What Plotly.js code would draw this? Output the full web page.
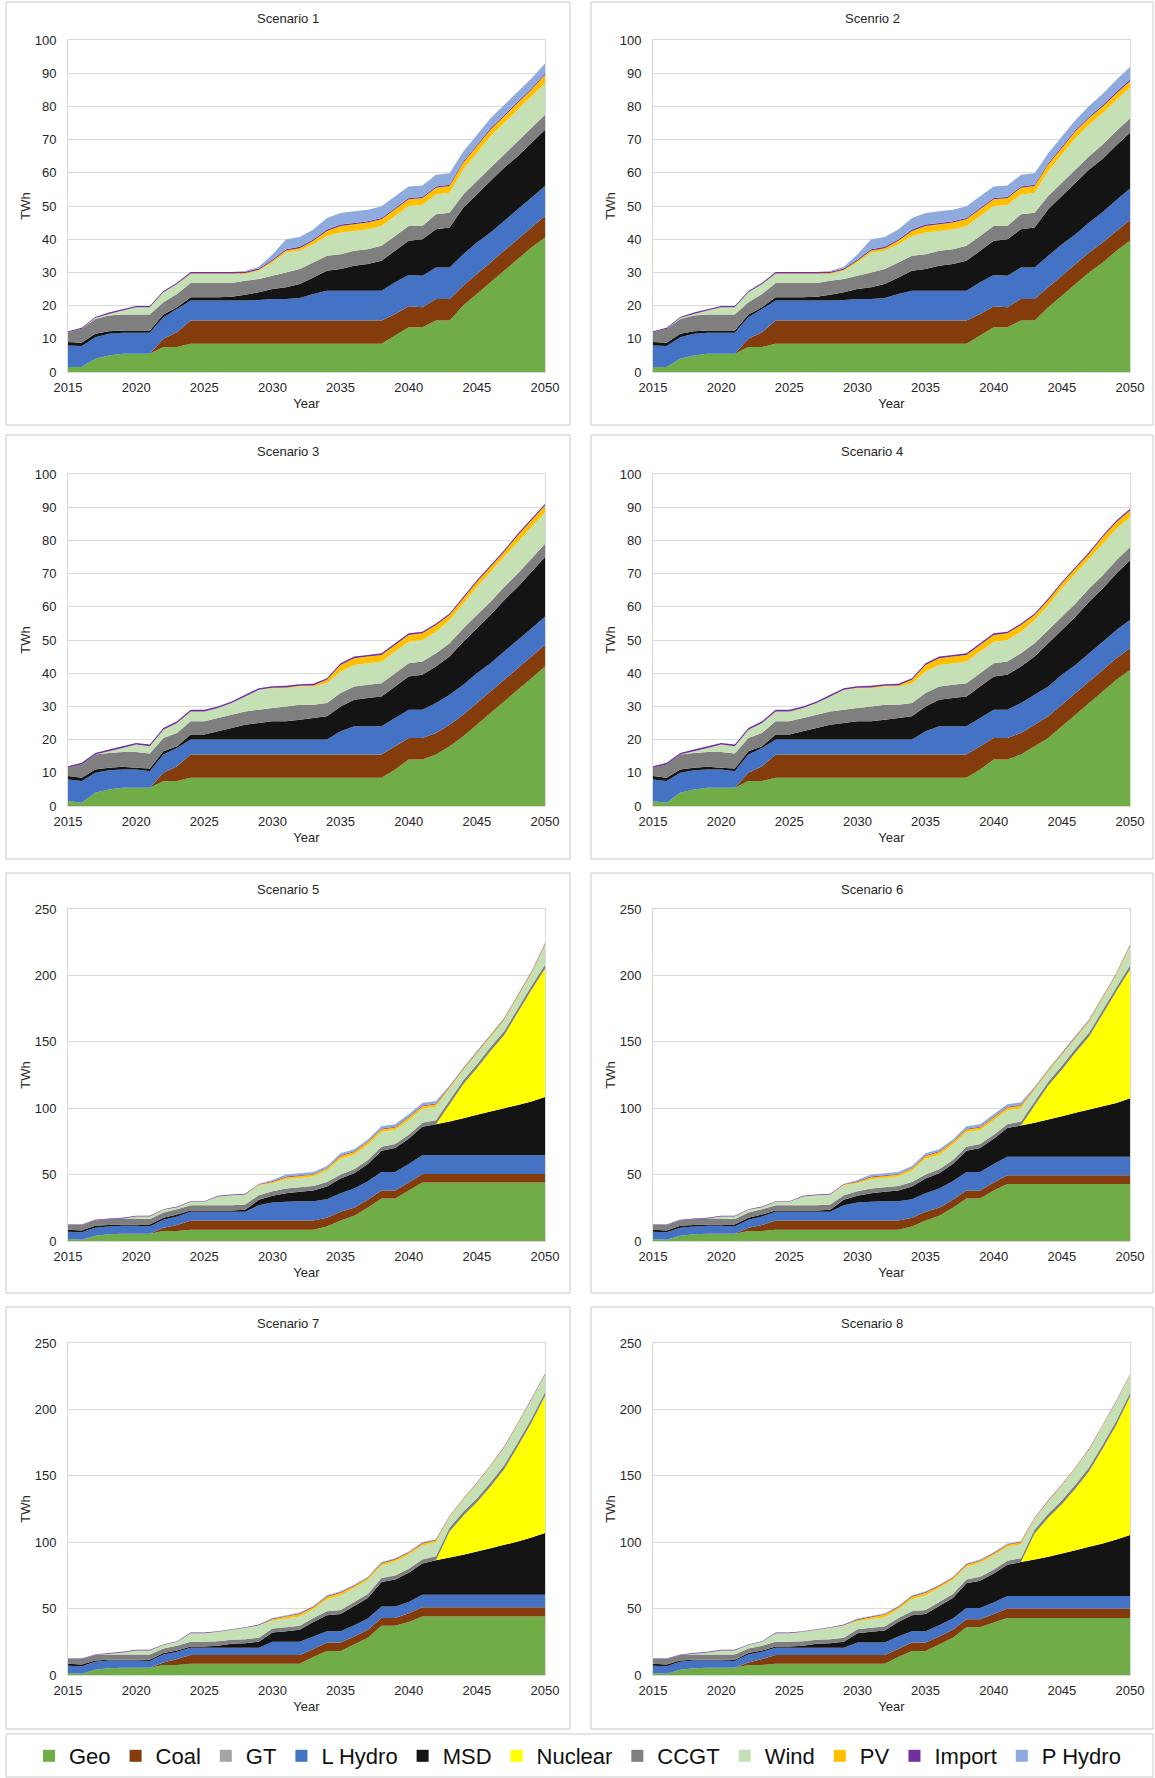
<!DOCTYPE html>
<html>
<head>
<meta charset="utf-8">
<script src="https://cdn.plot.ly/plotly-3.0.1.min.js"></script>
<style>html,body{margin:0;padding:0;background:#fff;}#chart{width:1155px;height:1778px;}</style>
</head>
<body>
<div id="chart"></div>
<script>
const years = [2015,2016,2017,2018,2019,2020,2021,2022,2023,2024,2025,2026,2027,2028,2029,2030,2031,2032,2033,2034,2035,2036,2037,2038,2039,2040,2041,2042,2043,2044,2045,2046,2047,2048,2049,2050];
const sources = ["Geo","Coal","GT","L Hydro","MSD","Nuclear","CCGT","Wind","PV","Import","P Hydro"];
const scenarioTitles = ["Scenario 1","Scenrio 2","Scenario 3","Scenario 4","Scenario 5","Scenario 6","Scenario 7","Scenario 8"];
const xTicks = [2015,2020,2025,2030,2035,2040,2045,2050];

// ---- Scenario 1 (TWh) ----
const s1_geo = [1.5,1.5,4,5,5.5,5.5,5.5,7.5,7.5,8.5,8.5,8.5,8.5,8.5,8.5,8.5,8.5,8.5,8.5,8.5,8.5,8.5,8.5,8.5,11,13.5,13.5,15.5,15.5,20,23.5,27,30.5,34,37.5,40.5];
const s1_coal = [0,0,0,0,0,0,0,2.5,4.5,7,7,7,7,7,7,7,7,7,7,7,7,7,7,7,6.5,6.3,6,6.5,6.5,6,6,6,6,6,6,6.5];
const s1_gt = [0,0,0,0,0,0,0,0,0,0,0,0,0,0,0,0,0,0,0,0,0,0,0,0,0,0,0,0,0,0,0,0,0,0,0,0];
const s1_lhydro = [6.5,6.3,6.5,6.5,6.3,6.3,6.3,6.5,7,6,6,6,6,6,6.2,6.5,6.5,6.8,8,9,9,9,9,9,9.5,9.4,9.5,9.5,9.5,9.5,9.5,9,9,9,9,9];
const s1_msd = [1,1,1,0.8,0.7,0.7,0.7,0.8,0.5,1,1,1,1.2,1.8,2.3,3,3.5,4.2,5,6,6.5,7.5,8,9,9.5,10.3,11,11.5,12,14,14.5,15.5,16,16,16.5,17];
const s1_nuclear = [0,0,0,0,0,0,0,0,0,0,0,0,0,0,0,0,0,0,0,0,0,0,0,0,0,0,0,0,0,0,0,0,0,0,0,0];
const s1_ccgt = [3,4.2,4.5,4.7,4.8,4.8,4.8,3.7,4,4.3,4.3,4.3,4.1,4.2,4,4,4.5,4.5,4.5,4.5,4.5,4.5,4.5,4.5,4.5,4.5,4,4.5,4.5,4,4,4,4,4.5,4.5,4.5];
const s1_wind = [0,0,0.3,0.5,1.2,2.2,2.2,3,3,2.7,2.7,2.7,2.7,2,2.5,4,6,5.5,5.5,6,6.5,6,6,6,6,6,6.3,6,6,7.5,8.5,9.5,9.5,9.5,9.5,9.5];
const s1_pv = [0,0,0,0,0,0,0,0,0,0.2,0.2,0.2,0.2,0.3,0.3,0.5,0.6,0.8,1,1.5,2,2,2,2,2,2,2,2,2,2,2,2,2,2,2,2.5];
const s1_import = [0.3,0.3,0.3,0.4,0.4,0.4,0.4,0.4,0.4,0.4,0.4,0.4,0.4,0.4,0.4,0.4,0.4,0.4,0.4,0.4,0.4,0.4,0.4,0.4,0.4,0.4,0.4,0.4,0.4,0.4,0.4,0.4,0.4,0.4,0.4,0.4];
const s1_phydro = [0,0,0,0,0,0,0,0,0,0,0,0,0,0.2,0.5,1.5,3,3,3,3.5,3.5,3.5,3.5,3.5,3.5,3.5,3.5,3.5,3.5,3,3,3,3,3,3,3];

// ---- Scenario 2 ----
const s2_geo = [1.5,1.5,4,5,5.5,5.5,5.5,7.5,7.5,8.5,8.5,8.5,8.5,8.5,8.5,8.5,8.5,8.5,8.5,8.5,8.5,8.5,8.5,8.5,11,13.5,13.5,15.5,15.5,19.5,23,26.5,30,33,36.5,39.5];
const s2_coal = [0,0,0,0,0,0,0,2.5,4.5,7,7,7,7,7,7,7,7,7,7,7,7,7,7,7,6.5,6.3,6,6.5,6.5,6,6,6,6,6,6,6.3];
const s2_gt = [0,0,0,0,0,0,0,0,0,0,0,0,0,0,0,0,0,0,0,0,0,0,0,0,0,0,0,0,0,0,0,0,0,0,0,0];
const s2_lhydro = [6.5,6.3,6.5,6.5,6.3,6.3,6.3,6.5,7,6,6,6,6,6,6.2,6.5,6.5,6.8,8,9,9,9,9,9,9.5,9.4,9.5,9.5,9.5,9.5,9.5,9,9,9.2,9.3,9.5];
const s2_msd = [1,1,1,0.8,0.7,0.7,0.7,0.8,0.5,1,1,1,1.2,1.8,2.3,3,3.5,4.2,5,6,6.5,7.5,8,9,9.5,10.3,11,11.5,12,14,14.5,15.5,16,16,16.5,16.8];
const s2_nuclear = [0,0,0,0,0,0,0,0,0,0,0,0,0,0,0,0,0,0,0,0,0,0,0,0,0,0,0,0,0,0,0,0,0,0,0,0];
const s2_ccgt = [3,4.2,4.5,4.7,4.8,4.8,4.8,3.7,4,4.3,4.3,4.3,4.1,4.2,4,4,4.5,4.5,4.5,4.5,4.5,4.5,4.5,4.5,4.5,4.5,4,4.5,4.5,4,4,4,4,4.3,4.3,4.3];
const s2_wind = [0,0,0.3,0.5,1.2,2.2,2.2,3,3,2.7,2.7,2.7,2.7,2,2.5,4,6,5.5,5.5,6,6.5,6,6,6,6,6,6.3,6,6,7.5,8.5,9.5,9.5,9.5,9.3,9.3];
const s2_pv = [0,0,0,0,0,0,0,0,0,0.2,0.2,0.2,0.2,0.3,0.3,0.5,0.6,0.8,1,1.5,2,2,2,2,2,2,2,2,2,2,2,2,2,2,2,1.9];
const s2_import = [0.3,0.3,0.3,0.4,0.4,0.4,0.4,0.4,0.4,0.4,0.4,0.4,0.4,0.4,0.4,0.4,0.4,0.4,0.4,0.4,0.4,0.4,0.4,0.4,0.4,0.4,0.4,0.4,0.4,0.4,0.4,0.4,0.4,0.4,0.5,0.5];
const s2_phydro = [0,0,0,0,0,0,0,0,0,0,0,0,0,0.2,0.5,1.5,3,3,3,3.5,3.5,3.5,3.5,3.5,3.5,3.5,3.5,3.5,3.5,3,3,3,3.2,3.4,3.6,3.8];

// ---- Scenario 3 ----
const s3_geo = [1.5,1,4,5,5.5,5.5,5.5,7.5,7.5,8.5,8.5,8.5,8.5,8.5,8.5,8.5,8.5,8.5,8.5,8.5,8.5,8.5,8.5,8.5,11,14,14,15.5,18,21,24.5,28,31.5,35,38.5,42];
const s3_coal = [0,0,0,0,0,0,0,2.5,4.5,7,7,7,7,7,7,7,7,7,7,7,7,7,7,7,7,6.5,6.5,6.5,6.5,6.5,6.5,6.5,6.5,6.5,6.5,6.5];
const s3_gt = [0,0,0,0,0,0,0,0,0,0,0,0,0,0,0,0,0,0,0,0,0,0,0,0,0,0,0,0,0,0,0,0,0,0,0,0];
const s3_lhydro = [6.5,6.5,6,5.8,5.5,5.5,5,5.5,5.5,4.5,4.5,4.5,4.5,4.5,4.5,4.5,4.5,4.5,4.5,4.5,7,8.5,8.5,8.5,8.5,8.5,8.5,9,9,9,9,8.5,8.5,8.5,8.5,8.5];
const s3_msd = [1,1,1,0.7,0.8,0.5,0.8,1,0.5,1.5,1.5,2.5,3.5,4.5,5,5.5,5.5,6,6.5,7,7.5,8,8.5,9,9.5,10,10.5,11,11.5,13,13.5,14.5,15.5,16,17,18];
const s3_nuclear = [0,0,0,0,0,0,0,0,0,0,0,0,0,0,0,0,0,0,0,0,0,0,0,0,0,0,0,0,0,0,0,0,0,0,0,0];
const s3_ccgt = [2.5,4,4.5,4.5,4.5,4.8,4.5,4,4,4,4,4,4,4,4,4,4.5,4.5,4,4,4,4,4,4,4,4,4,4,4,4,4,4,4,4,4,4];
const s3_wind = [0,0,0,0.5,1.2,2.2,2.2,2.5,3,3,3,3,3.5,4.5,6,6,5.5,5.5,5.5,6,6.5,6.5,6.5,6.5,6.5,6.5,6.5,6.5,7,7.5,8.5,9,9,9.5,9.5,9.5];
const s3_pv = [0,0,0,0,0,0,0,0,0,0,0,0,0,0,0,0.1,0.2,0.2,0.3,1,2,2,2,2,2,2,2,2,1.5,1.5,1.5,1.5,1.5,2,2,2];
const s3_import = [0.5,0.5,0.5,0.5,0.5,0.5,0.5,0.5,0.5,0.5,0.5,0.5,0.5,0.5,0.5,0.5,0.5,0.5,0.5,0.5,0.5,0.5,0.5,0.5,0.5,0.5,0.5,0.5,0.5,0.5,0.5,0.5,0.5,0.5,0.5,0.5];
const s3_phydro = [0,0,0,0,0,0,0,0,0,0,0,0,0,0,0,0,0,0,0,0,0,0,0,0,0,0,0,0,0,0,0,0,0,0,0,0];

// ---- Scenario 4 ----
const s4_geo = [1.5,1,4,5,5.5,5.5,5.5,7.5,7.5,8.5,8.5,8.5,8.5,8.5,8.5,8.5,8.5,8.5,8.5,8.5,8.5,8.5,8.5,8.5,11,14,14,15.5,18,20.5,24,27.5,31,34.5,38,41];
const s4_coal = [0,0,0,0,0,0,0,2.5,4.5,7,7,7,7,7,7,7,7,7,7,7,7,7,7,7,7,6.5,6.5,6.5,6.5,6.5,6.5,6.5,6.5,6.5,6.5,6.5];
const s4_gt = [0,0,0,0,0,0,0,0,0,0,0,0,0,0,0,0,0,0,0,0,0,0,0,0,0,0,0,0,0,0,0,0,0,0,0,0];
const s4_lhydro = [6.5,6.5,6,5.8,5.5,5.5,5,5.5,5.5,4.5,4.5,4.5,4.5,4.5,4.5,4.5,4.5,4.5,4.5,4.5,7,8.5,8.5,8.5,8.5,8.5,8.5,9,9,9,9,8.5,8.5,8.5,8.5,8.5];
const s4_msd = [1,1,1,0.7,0.8,0.5,0.8,1,0.5,1.5,1.5,2.5,3.5,4.5,5,5.5,5.5,6,6.5,7,7.5,8,8.5,9,9.5,10,10.5,11,11.5,13,13.5,14.5,15.5,16,17,18];
const s4_nuclear = [0,0,0,0,0,0,0,0,0,0,0,0,0,0,0,0,0,0,0,0,0,0,0,0,0,0,0,0,0,0,0,0,0,0,0,0];
const s4_ccgt = [2.5,4,4.5,4.5,4.5,4.8,4.5,4,4,4,4,4,4,4,4,4,4.5,4.5,4,4,4,4,4,4,4,4,4,4,4,4,4,4,4,4,4,4];
const s4_wind = [0,0,0,0.5,1.2,2.2,2.2,2.5,3,3,3,3,3.5,4.5,6,6,5.5,5.5,5.5,6,6.5,6.5,6.5,6.5,6.5,6.5,6.5,6.5,7,7.5,8.5,9,9,9.5,9.5,9];
const s4_pv = [0,0,0,0,0,0,0,0,0,0,0,0,0,0,0,0.1,0.2,0.2,0.3,1,2,2,2,2,2,2,2,2,1.5,1.5,1.5,1.5,1.5,2,2,2];
const s4_import = [0.5,0.5,0.5,0.5,0.5,0.5,0.5,0.5,0.5,0.5,0.5,0.5,0.5,0.5,0.5,0.5,0.5,0.5,0.5,0.5,0.5,0.5,0.5,0.5,0.5,0.5,0.5,0.5,0.5,0.5,0.5,0.5,0.5,0.5,0.5,0.5];
const s4_phydro = [0,0,0,0,0,0,0,0,0,0,0,0,0,0,0,0,0,0,0,0,0,0,0,0,0,0,0,0,0,0,0,0,0,0,0,0];

// ---- Scenario 5 ----
const s5_geo = [1.5,1,4,5,5.5,5.5,5.5,7.5,7.5,8.5,8.5,8.5,8.5,8.5,8.5,8.5,8.5,8.5,8.5,11,15.5,19,25,32,32,38,44,44,44,44,44,44,44,44,44,44];
const s5_coal = [0,0,0,0,0,0,0,2.5,4.5,7,7,7,7,7,7,7,7,7,7,6.5,6.5,6,6,6,6,6,6.5,6.5,6.5,6.5,6.5,6.5,6.5,6.5,6.5,6.5];
const s5_gt = [0,0,0,0,0,0,0,0,0,0,0,0,0,0,0,0,0,0,0,0,0,0,0,0,0,0,0,0,0,0,0,0,0,0,0,0];
const s5_lhydro = [5.5,5.5,6,6,6,6,5.5,6,6.5,6.5,6.5,6.5,6.5,6.5,11.5,13.5,14,14.5,14.5,14,14,14.5,14,14,14,14,14,14,14,14,14,14,14,14,14,14];
const s5_msd = [1.5,1.5,1.5,1,1,1,1.5,1.5,1.5,1,1,1,1,1.5,4,5,6.5,7,8,9.5,11,11.5,13,16,18,19,21.5,23.5,25.5,28,30.5,33,35.5,38,40.5,44];
const s5_nuclear = [0,0,0,0,0,0,0,0,0,0,0,0,0,0,0,0,0,0,0,0,0,0,0,0,0,0,0,0,13,25.5,35,45.5,55,69.5,84,96.5];
const s5_ccgt = [3.5,4,4,4.5,4.5,4.5,4,4,4,4,4,4,4,4,3.5,3.5,3.5,3.5,3.5,3.5,3,3,3,3,3,3,3,3,3,3,3,3,3,3,3,3];
const s5_wind = [0,0,0,0,0,1.5,2,2,1.5,2.5,2.5,6.5,7.5,7.5,7.5,6,7,7,7,8.5,12,11,11.5,11,10.5,11,10.5,10,9,7.5,8,7.5,8,8.5,9,14.5];
const s5_pv = [0,0,0,0,0,0,0,0,0,0,0,0,0,0,0.5,1,1.5,1.5,1.5,1.5,2,2,2,2,2,2,2,2,1,1,1,1,1,1,1,1];
const s5_import = [0.5,0.5,0.5,0.5,0.5,0.5,0.5,0.5,0.5,0.5,0.5,0.5,0.5,0.5,0.5,0.5,0.5,0.5,0.5,0.5,0.5,0.5,0.5,0.5,0.5,0.5,0.5,0.5,0.5,0.5,0.5,0.5,0.5,0.5,0.5,0.5];
const s5_phydro = [0,0,0,0,0,0,0,0,0,0,0,0,0,0,0,1,1.5,1.5,1.5,1.5,1.5,1.5,1.5,2,2,2,2,2,0.5,0.5,0.5,0.5,0.5,0.5,0.5,0.5];

// ---- Scenario 6 ----
const s6_geo = [1.5,1,4,5,5.5,5.5,5.5,7.5,7.5,8.5,8.5,8.5,8.5,8.5,8.5,8.5,8.5,8.5,8.5,11,15.5,19,25,32,32,38,43,43,43,43,43,43,43,43,43,43];
const s6_coal = [0,0,0,0,0,0,0,2.5,4.5,7,7,7,7,7,7,7,7,7,7,6.5,6.5,6,6,6,6,6,6.5,6.5,6.5,6.5,6.5,6.5,6.5,6.5,6.5,6.5];
const s6_gt = [0,0,0,0,0,0,0,0,0,0,0,0,0,0,0,0,0,0,0,0,0,0,0,0,0,0,0,0,0,0,0,0,0,0,0,0];
const s6_lhydro = [5.5,5.5,6,6,6,6,5.5,6,6.5,6.5,6.5,6.5,6.5,6.5,11.5,13.5,14,14.5,14.5,14,14,14.5,14,14,14,14,14,14,14,14,14,14,14,14,14,14];
const s6_msd = [1.5,1.5,1.5,1,1,1,1.5,1.5,1.5,1,1,1,1,1.5,4,5,6.5,7,8,9.5,11,11.5,13,16,18,19,21.5,23.5,25.5,28,30.5,33,35.5,38,40.5,44];
const s6_nuclear = [0,0,0,0,0,0,0,0,0,0,0,0,0,0,0,0,0,0,0,0,0,0,0,0,0,0,0,0,13,25.5,35,45.5,55,69.5,84,97];
const s6_ccgt = [3.5,4,4,4.5,4.5,4.5,4,4,4,4,4,4,4,4,3.5,3.5,3.5,3.5,3.5,3.5,3,3,3,3,3,3,3,3,3,3,3,3,3,3,3,3];
const s6_wind = [0,0,0,0,0,1.5,2,2,1.5,2.5,2.5,6.5,7.5,7.5,7.5,6,7,7,7,8.5,12,11,11.5,11,10.5,11,10.5,10,9,7.5,8,7.5,8,8.5,9,14];
const s6_pv = [0,0,0,0,0,0,0,0,0,0,0,0,0,0,0.5,1,1.5,1.5,1.5,1.5,2,2,2,2,2,2,2,2,1,1,1,1,1,1,1,1];
const s6_import = [0.5,0.5,0.5,0.5,0.5,0.5,0.5,0.5,0.5,0.5,0.5,0.5,0.5,0.5,0.5,0.5,0.5,0.5,0.5,0.5,0.5,0.5,0.5,0.5,0.5,0.5,0.5,0.5,0.5,0.5,0.5,0.5,0.5,0.5,0.5,0.5];
const s6_phydro = [0,0,0,0,0,0,0,0,0,0,0,0,0,0,0,1,1.5,1.5,1.5,1.5,1.5,1.5,1.5,2,2,2,2,2,0.5,0.5,0.5,0.5,0.5,0.5,0.5,0.5];

// ---- Scenario 7 ----
const s7_geo = [1.5,1,4,5,5.5,5.5,5.5,7.5,7.5,8.5,8.5,8.5,8.5,8.5,8.5,8.5,8.5,8.5,13.5,18,18,23,28,37,37,40,44,44,44,44,44,44,44,44,44,44];
const s7_coal = [0,0,0,0,0,0,0,2,4.5,6.5,6.5,6.5,6.5,6.5,6.5,6.5,6.5,6.5,6,6.5,6.5,6,6,6,6,6.5,7,7,7,7,7,7,7,7,7,7];
const s7_gt = [0,0,0,0,0,0,0,0,0,0,0,0,0,0,0,0,0,0,0,0,0,0,0,0,0,0,0,0,0,0,0,0,0,0,0,0];
const s7_lhydro = [5.5,5.5,6,6,5.5,5.5,5,6,5.5,5.5,5.5,5.5,5.5,5.5,5.5,10,10,10,9.5,8.5,8.5,8.5,8.5,8.5,8.5,8.5,9.5,9.5,9.5,9.5,9.5,9.5,9.5,9.5,9.5,9.5];
const s7_msd = [1.5,1.5,1,0.5,0.5,0.5,1,1,1,1,1,1.5,3,3.5,4.5,7,8,9,11,12,13,14.5,15.5,18.5,20.5,22,23.5,26,28,30,32.5,35,37.5,40,43,46.5];
const s7_nuclear = [0,0,0,0,0,0,0,0,0,0,0,0,0,0,0,0,0,0,0,0,0,0,0,0,0,0,0,0,19.5,29.5,37,46.5,57,71.5,86.5,103];
const s7_ccgt = [3.5,4,4,4,4,4,4,3.5,3.5,3.5,3.5,3.5,3,3,3,3,3,3,3,3,3,3,3,3,3,3,3,3,3,3,3,3,3,3,3,3];
const s7_wind = [0,0,0,0.5,1.5,3,3,2.5,3,6.5,6.5,7,7.5,8.5,9.5,6,6.5,7,6.5,9,11,10.5,10.5,9.5,10.5,10.5,10.5,10.5,8,9,11,12,13,14,14,13];
const s7_pv = [0,0,0,0,0,0,0,0,0,0,0,0,0,0,0,1,1.5,2,1.5,2,2,1.5,1.5,1.5,1.5,1.5,1.5,1.5,0.5,0.5,0.5,0.5,0.5,0.5,0.5,0.5];
const s7_import = [0.5,0.5,0.5,0.5,0.5,0.5,0.5,0.5,0.5,0.5,0.5,0.5,0.5,0.5,0.5,0.5,0.5,0.5,0.5,0.5,0.5,0.5,0.5,0.5,0.5,0.5,0.5,0.5,0.5,0.5,0.5,0.5,0.5,0.5,0.5,0.5];
const s7_phydro = [0,0,0,0,0,0,0,0,0,0,0,0,0,0,0,0.5,0.5,0.5,0.5,0.5,0.5,0.5,0.5,0.5,0.5,0.5,0.5,0,0,0,0,0,0,0,0,0];

// ---- Scenario 8 ----
const s8_geo = [1.5,1,4,5,5.5,5.5,5.5,7.5,7.5,8.5,8.5,8.5,8.5,8.5,8.5,8.5,8.5,8.5,13.5,18,18,23,28,36,36,39.5,43,43,43,43,43,43,43,43,43,43];
const s8_coal = [0,0,0,0,0,0,0,2,4.5,6.5,6.5,6.5,6.5,6.5,6.5,6.5,6.5,6.5,6,6.5,6.5,6,6,6,6,6.5,7,7,7,7,7,7,7,7,7,7];
const s8_gt = [0,0,0,0,0,0,0,0,0,0,0,0,0,0,0,0,0,0,0,0,0,0,0,0,0,0,0,0,0,0,0,0,0,0,0,0];
const s8_lhydro = [5.5,5.5,6,6,5.5,5.5,5,6,5.5,5.5,5.5,5.5,5.5,5.5,5.5,9.5,9.5,9.5,9.5,8.5,8.5,8.5,8.5,8.5,8.5,8.5,9.5,9.5,9.5,9.5,9.5,9.5,9.5,9.5,9.5,9.5];
const s8_msd = [1.5,1.5,1,0.5,0.5,0.5,1,1,1,1,1,1.5,3,3.5,4.5,7,8,9,11,12,13,14.5,15.5,18.5,20.5,22,23.5,25.5,27.5,29.5,32,34.5,37,39.5,42.5,46];
const s8_nuclear = [0,0,0,0,0,0,0,0,0,0,0,0,0,0,0,0,0,0,0,0,0,0,0,0,0,0,0,0,19.5,29.5,37,46.5,57,71.5,86.5,104];
const s8_ccgt = [3.5,4,4,4,4,4,4,3.5,3.5,3.5,3.5,3.5,3,3,3,3,3,3,3,3,3,3,3,3,3,3,3,3,3,3,3,3,3,3,3,3];
const s8_wind = [0,0,0,0.5,1.5,3,3,2.5,3,6.5,6.5,7,7.5,8.5,9.5,6,6.5,7,6.5,9,11,10.5,10.5,9.5,10.5,10.5,10.5,10.5,8,9,11,12,13,14,14,13];
const s8_pv = [0,0,0,0,0,0,0,0,0,0,0,0,0,0,0,1,1.5,2,1.5,2,2,1.5,1.5,1.5,1.5,1.5,1.5,1.5,0.5,0.5,0.5,0.5,0.5,0.5,0.5,0.5];
const s8_import = [0.5,0.5,0.5,0.5,0.5,0.5,0.5,0.5,0.5,0.5,0.5,0.5,0.5,0.5,0.5,0.5,0.5,0.5,0.5,0.5,0.5,0.5,0.5,0.5,0.5,0.5,0.5,0.5,0.5,0.5,0.5,0.5,0.5,0.5,0.5,0.5];
const s8_phydro = [0,0,0,0,0,0,0,0,0,0,0,0,0,0,0,0.5,0.5,0.5,0.5,0.5,0.5,0.5,0.5,0.5,0.5,0.5,0.5,0,0,0,0,0,0,0,0,0];

const colors = ["#70ad47","#843c0c","#a5a5a5","#4472c4","#141414","#ffff00","#7f7f7f","#c5e0b4","#ffc000","#7030a0","#8faadc"];

const scenarios = [
  [s1_geo,s1_coal,s1_gt,s1_lhydro,s1_msd,s1_nuclear,s1_ccgt,s1_wind,s1_pv,s1_import,s1_phydro],
  [s2_geo,s2_coal,s2_gt,s2_lhydro,s2_msd,s2_nuclear,s2_ccgt,s2_wind,s2_pv,s2_import,s2_phydro],
  [s3_geo,s3_coal,s3_gt,s3_lhydro,s3_msd,s3_nuclear,s3_ccgt,s3_wind,s3_pv,s3_import,s3_phydro],
  [s4_geo,s4_coal,s4_gt,s4_lhydro,s4_msd,s4_nuclear,s4_ccgt,s4_wind,s4_pv,s4_import,s4_phydro],
  [s5_geo,s5_coal,s5_gt,s5_lhydro,s5_msd,s5_nuclear,s5_ccgt,s5_wind,s5_pv,s5_import,s5_phydro],
  [s6_geo,s6_coal,s6_gt,s6_lhydro,s6_msd,s6_nuclear,s6_ccgt,s6_wind,s6_pv,s6_import,s6_phydro],
  [s7_geo,s7_coal,s7_gt,s7_lhydro,s7_msd,s7_nuclear,s7_ccgt,s7_wind,s7_pv,s7_import,s7_phydro],
  [s8_geo,s8_coal,s8_gt,s8_lhydro,s8_msd,s8_nuclear,s8_ccgt,s8_wind,s8_pv,s8_import,s8_phydro]
];
const yMax = [100,100,100,100,250,250,250,250];
const yStep = [10,10,10,10,50,50,50,50];

// ---- Layout geometry (pixels) ----
const W = 1155, H = 1778;
const plotX = [[68,545],[653,1130]];
const plotY = [[40,372],[474,806],[909,1241],[1343,1675]];
const boxX = [[6,570],[591,1153]];
const boxY = [[2,425],[435,859],[873,1293],[1307,1729]];
const fx = px => px / W;
const fy = py => 1 - py / H;

const font = "Liberation Sans, Arial, sans-serif";
const traces = [];
const layout = {
  width: W, height: H,
  margin: {l:0, r:0, t:0, b:0},
  paper_bgcolor: "#ffffff", plot_bgcolor: "#ffffff",
  font: {family: font, size: 13, color: "#262626"},
  showlegend: true,
  legend: {
    orientation: "h", x: 0.5, xanchor: "center", y: fy(1756), yanchor: "middle",
    font: {family: font, size: 22, color: "#111"},
    itemwidth: 30, itemsizing: "trace", bgcolor: "rgba(0,0,0,0)", traceorder: "normal", itemclick: false
  },
  shapes: [], annotations: []
};

for (let i = 0; i < 8; i++) {
  const col = i % 2, row = Math.floor(i / 2);
  const xa = "x" + (i === 0 ? "" : (i + 1));
  const ya = "y" + (i === 0 ? "" : (i + 1));
  const xKey = "xaxis" + (i === 0 ? "" : (i + 1));
  const yKey = "yaxis" + (i === 0 ? "" : (i + 1));
  layout[xKey] = {
    domain: [fx(plotX[col][0]), fx(plotX[col][1])],
    anchor: ya, range: [2015, 2050], tickvals: xTicks, ticks: "", showgrid: false,
    showline: true, linecolor: "#d9d9d9", linewidth: 1, mirror: true, zeroline: false,
    tickfont: {size: 13}, ticklabelstandoff: 3, automargin: false, fixedrange: true,
    title: {text: "Year", font: {size: 13}, standoff: 5}
  };
  layout[yKey] = {
    domain: [fy(plotY[row][1]), fy(plotY[row][0])],
    anchor: xa, range: [0, yMax[i]], dtick: yStep[i], tick0: 0, ticks: "",
    showgrid: true, gridcolor: "#d9d9d9", gridwidth: 1,
    showline: true, linecolor: "#d9d9d9", linewidth: 1, mirror: true, zeroline: false,
    tickfont: {size: 13}, ticklabelstandoff: 8, automargin: false, fixedrange: true,
    title: {text: "TWh", font: {size: 13}, standoff: 1}
  };
  layout.shapes.push({
    type: "rect", xref: "paper", yref: "paper", layer: "below",
    x0: fx(boxX[col][0]), x1: fx(boxX[col][1]), y0: fy(boxY[row][1]), y1: fy(boxY[row][0]),
    line: {color: "#c9c9c9", width: 1}, fillcolor: "rgba(0,0,0,0)"
  });
  layout.annotations.push({
    text: scenarioTitles[i], xref: "paper", yref: "paper", showarrow: false,
    x: fx((boxX[col][0] + boxX[col][1]) / 2), y: fy(boxY[row][0] + 16), xanchor: "center", yanchor: "middle",
    font: {size: 13, color: "#262626"}
  });
  for (let s = 0; s < sources.length; s++) {
    traces.push({
      type: "scatter", x: years, y: scenarios[i][s], xaxis: xa, yaxis: ya,
      stackgroup: "sc" + i, mode: "none", fillcolor: colors[s], line: {width: 0},
      name: sources[s], legendgroup: sources[s], showlegend: false, hoverinfo: "skip"
    });
  }
}
// Legend entries drawn as square swatches (one per source)
for (let s = 0; s < sources.length; s++) {
  traces.push({
    type: "scatter", mode: "markers", x: [null], y: [null], xaxis: "x", yaxis: "y",
    marker: {symbol: "square", size: 12, color: colors[s]},
    name: sources[s], legendgroup: sources[s], showlegend: true, hoverinfo: "skip"
  });
}
layout.shapes.push({
  type: "rect", xref: "paper", yref: "paper", layer: "below",
  x0: fx(6), x1: fx(1153), y0: fy(1777), y1: fy(1734),
  line: {color: "#c9c9c9", width: 1}, fillcolor: "rgba(0,0,0,0)"
});

Plotly.newPlot("chart", traces, layout, {staticPlot: true, displayModeBar: false});
</script>
</body>
</html>
